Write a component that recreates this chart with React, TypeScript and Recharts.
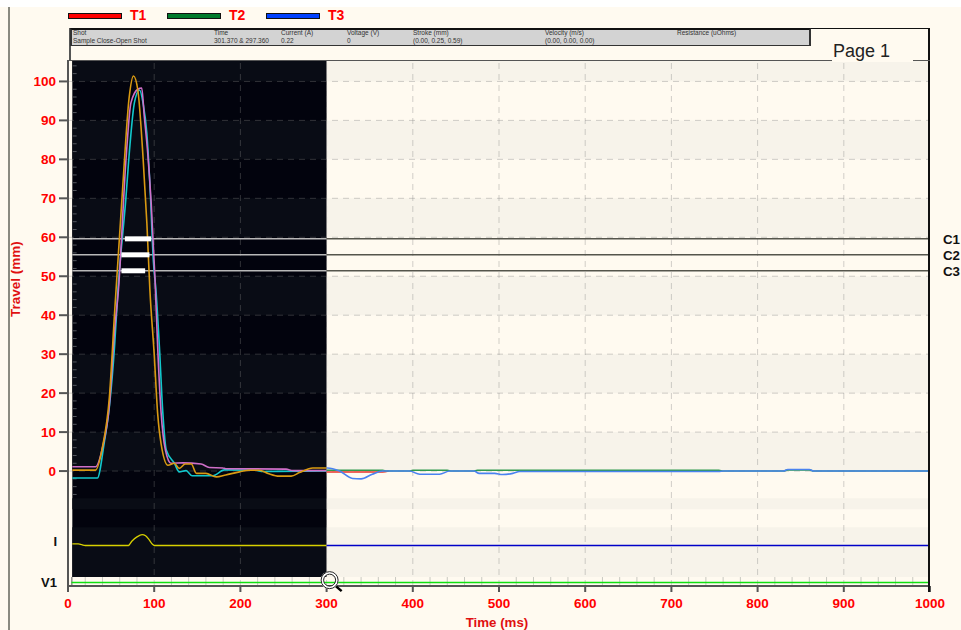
import {
  Label,
  Line,
  LineChart,
  ReferenceArea,
  ReferenceDot,
  ReferenceLine,
  XAxis,
  YAxis,
} from 'recharts';

const FONT = '"Liberation Sans", Arial, sans-serif';
const CREAM = '#fffaf0';

const xTicks = [0, 100, 200, 300, 400, 500, 600, 700, 800, 900, 1000];
const xGrid = [100, 200, 300, 400, 500, 600, 700, 800, 900];
const yTicks = [0, 10, 20, 30, 40, 50, 60, 70, 80, 90, 100];
const minorTicks = [-6, -4, -2, 2, 4, 6, 8, 12, 14, 16, 18, 22, 24, 26, 28, 32, 34, 36, 38, 42, 44, 46, 48, 52, 54, 56, 58, 62, 64, 66, 68, 72, 74, 76, 78, 82, 84, 86, 88, 92, 94, 96, 98, 102, 104];
const v1Ticks = [20, 40, 60, 80, 120, 140, 160, 180, 220, 240, 260, 280, 320, 340, 360, 380, 420, 440, 460, 480, 520, 540, 560, 580, 620, 640, 660, 680, 720, 740, 760, 780, 820, 840, 860, 880, 920, 940, 960, 980];

// stripes behind the plot, [top, bottom] in mm
const bands = [[105.5, 100], [90, 80], [70, 60], [50, 40], [30, 20], [10, 0], [-7, -9.8], [-14.4, -27.2]];

// contact cursors
const cursors = [
  { name: 'C1', mm: 59.6, from: 66, to: 96.5 },
  { name: 'C2', mm: 55.5, from: 62, to: 94.5 },
  { name: 'C3', mm: 51.4, from: 62, to: 89.5 },
];

// travel inside the selected window (shown inverted on black)
const t1WindowTime = [5, 34, 42, 48, 54, 58, 67, 72, 77, 83, 87, 91.5, 95.5, 99, 102, 106, 110, 114, 123.5, 129, 137, 144, 168, 181.5, 218, 226, 300];
const t1WindowMm = [-1.8, -1.8, 7.2, 16.5, 32, 46.5, 69.6, 84, 94.5, 97.8, 94.5, 86.6, 71.3, 54, 46.5, 32, 15, 5.4, 2, -0.2, 0.1, -1.2, -1.2, 0.3, 0.2, -0.1, 0];
const t2WindowTime = [5, 32, 40, 48, 54, 58.5, 67.5, 73, 81, 85.5, 88.5, 92.5, 96.5, 101, 104, 108, 113, 119.5, 133, 154.5, 164, 179.5, 183, 253, 261, 300];
const t2WindowMm = [1.1, 1.1, 6, 17, 36, 46.5, 80.7, 94.5, 98, 98.3, 91, 81.6, 68.8, 49, 32, 15, 5.4, 2, 2.1, 1.8, 0.9, 0.8, 0.6, 0.5, 0.1, 0.1];
const t3WindowTime = [5, 32, 40, 48, 54, 63.5, 71, 76, 81, 87, 91.5, 95, 100, 104, 108, 116, 123.5, 129, 136, 143, 149, 160, 172, 183, 199, 210, 222, 232, 245, 259, 268.5, 284, 300];
const t3WindowMm = [0.25, 0.25, 6.2, 19, 40.5, 73, 96, 101.4, 97.8, 80.7, 63.6, 46.5, 30, 14.8, 7, 1.5, 2, 0.7, 1.8, 1.8, -0.6, -0.6, -1.5, -1, -0.2, 0.2, 0.2, -0.6, -1.3, -1.3, -0.4, 0.8, 0.8];

// travel after the window
const t1AfterTime = [300, 365, 372];
const t1AfterMm = [-0.25, -0.25, 0];
const t2AfterTime = [300, 365, 370, 396, 400, 440, 445, 470, 475, 755, 760, 830, 835, 860, 865, 1000];
const t2AfterMm = [0.2, 0.2, 0, 0, 0.2, 0.2, 0, 0, 0.2, 0.2, 0, 0, 0.3, 0.3, 0, 0];
const t3AfterTime = [300, 301, 315, 330, 340, 353, 365, 396, 408, 431, 443, 471, 477, 495, 504, 516, 524, 755, 760, 830, 835, 860, 865, 1000];
const t3AfterMm = [0.8, 0.8, 0, -1.9, -2, -0.8, 0, 0, -0.8, -0.8, 0, 0, -0.6, -0.6, -0.9, -0.6, -0.1, -0.1, 0, 0, 0.4, 0.4, 0, 0];

// current channel, drawn at its own baseline under the travel traces
const currentWindowTime = [5, 12, 16, 20, 70, 74, 80, 86, 90, 94, 98, 100, 300];
const currentWindowMm = [-18.7, -18.7, -18.9, -19.1, -19.1, -18, -16.9, -16.3, -16.6, -17.6, -18.8, -19.1, -19.1];
const currentAfterTime = [300, 1000];
const currentAfterMm = [-19.1, -19.1];

const v1Time = [4, 1000];
const v1Mm = [-28.6, -28.6];

const legendItems = [
  { name: 'T1', color: '#ff0000', left: 68 },
  { name: 'T2', color: '#007a2c', left: 167 },
  { name: 'T3', color: '#0040ff', left: 266 },
];

const infoColumns = [
  { head: 'Shot', value: 'Sample Close-Open Shot', left: 73 },
  { head: 'Time', value: '301.370 & 297.360', left: 214 },
  { head: 'Current (A)', value: '0.22', left: 281 },
  { head: 'Voltage (V)', value: '0', left: 347 },
  { head: 'Stroke (mm)', value: '(0.00, 0.25, 0.59)', left: 413 },
  { head: 'Velocity (m/s)', value: '(0.00, 0.00, 0.00)', left: 545 },
  { head: 'Resistance (uOhms)', value: '', left: 677 },
];

const toPoints = (time: number[], mm: number[]) => time.map((t, i) => ({ t, mm: mm[i] }));

const traces = [
  { key: 't1-window', time: t1WindowTime, mm: t1WindowMm, color: '#12c8cc', width: 1.6 },
  { key: 't2-window', time: t2WindowTime, mm: t2WindowMm, color: '#cf6fc8', width: 1.6 },
  { key: 't3-window', time: t3WindowTime, mm: t3WindowMm, color: '#d99a12', width: 1.6 },
  { key: 't1-after', time: t1AfterTime, mm: t1AfterMm, color: '#e8352a', width: 1.6 },
  { key: 't2-after', time: t2AfterTime, mm: t2AfterMm, color: '#2f9a4c', width: 1.6 },
  { key: 't3-after', time: t3AfterTime, mm: t3AfterMm, color: '#4a82f0', width: 1.6 },
  { key: 'i-window', time: currentWindowTime, mm: currentWindowMm, color: '#d8d000', width: 1.3 },
  { key: 'i-after', time: currentAfterTime, mm: currentAfterMm, color: '#0000c8', width: 1.3 },
  { key: 'v1', time: v1Time, mm: v1Mm, color: '#10e010', width: 1.5 },
];

const Magnifier = ({ cx, cy }: { cx?: number; cy?: number }) => (
  <g>
    <line x1={cx! + 5} y1={cy! + 5} x2={cx! + 12} y2={cy! + 11} stroke="#000" strokeWidth={2.5} />
    <circle cx={cx} cy={cy} r={7.5} fill="none" stroke="#fff" strokeWidth={3} />
    <circle cx={cx} cy={cy} r={8.5} fill="none" stroke="#222" strokeWidth={1} />
    <circle cx={cx} cy={cy} r={6} fill="none" stroke="#222" strokeWidth={1} />
  </g>
);

const boxStyle = (left: number, top: number, width: number, height: number) => ({
  position: 'absolute' as const,
  left,
  top,
  width,
  height,
});

export default function App() {
  return (
    <div style={{ ...boxStyle(0, 0, 961, 630), background: CREAM, overflow: 'hidden', fontFamily: FONT }}>
      <div style={{ ...boxStyle(0, 0, 961, 7), background: '#fff' }} />
      <div style={{ ...boxStyle(8, 7, 1.5, 623), background: '#8a8a80' }} />

      {legendItems.map((item) => (
        <div key={item.name}>
          <div
            style={{
              ...boxStyle(item.left, 13, 52, 4),
              background: item.color,
              border: '1px solid #111',
            }}
          />
          <div
            style={{
              position: 'absolute',
              left: item.left + 62,
              top: 7,
              color: '#ff0000',
              fontSize: 14,
              fontWeight: 'bold',
              lineHeight: '16px',
            }}
          >
            {item.name}
          </div>
        </div>
      ))}

      <div style={{ position: 'absolute', left: 0, top: 0 }}>
        <LineChart
          width={961}
          height={630}
          margin={{ top: 60, right: 31, bottom: 0, left: 8 }}
          style={{ fontFamily: FONT }}
        >
          <XAxis
            type="number"
            dataKey="t"
            domain={[0, 1000]}
            ticks={xTicks}
            interval={0}
            height={44}
            allowDuplicatedCategory={false}
            stroke="#555"
            strokeWidth={2}
            tickSize={6}
            tickMargin={6}
            tick={{ fill: '#ff0000', fontSize: 13.5, fontWeight: 'bold' }}
          >
            <Label value="Time (ms)" position="insideBottom" offset={3} dx={-2} fill="#e01010" fontSize={13.3} fontWeight="bold" />
          </XAxis>
          <XAxis
            xAxisId="top"
            orientation="top"
            type="number"
            dataKey="t"
            domain={[0, 1000]}
            ticks={xGrid}
            interval={0}
            height={0}
            axisLine={false}
            tickSize={4}
            tickLine={{ stroke: '#c4c0b8' }}
            tick={() => <g />}
          />
          <YAxis
            type="number"
            domain={[-29.5, 105.5]}
            ticks={yTicks}
            interval={0}
            width={60}
            allowDataOverflow
            stroke="#555"
            strokeWidth={2}
            tickSize={9}
            tickMargin={3}
            tick={{ fill: '#ff0000', fontSize: 13.5, fontWeight: 'bold' }}
          >
            <Label value="Travel (mm)" angle={-90} position="insideLeft" offset={7} dy={-6} fill="#e01010" fontSize={13.5} fontWeight="bold" />
          </YAxis>

          <ReferenceArea x1={5} x2={300} y1={105.5} y2={-27.2} fill="#02030d" fillOpacity={1} stroke="none" />
          {bands.map(([top, bottom]) => (
            <ReferenceArea key={`w${top}`} x1={5} x2={300} y1={top} y2={bottom} fill="#090c15" fillOpacity={1} stroke="none" />
          ))}
          {bands.map(([top, bottom]) => (
            <ReferenceArea key={`a${top}`} x1={300} x2={1000} y1={top} y2={bottom} fill="#f7f3ea" fillOpacity={1} stroke="none" />
          ))}

          {yTicks.map((mm) => (
            <ReferenceLine key={`gy${mm}`} y={mm} stroke="#808080" strokeOpacity={0.36} strokeDasharray="6 5" />
          ))}
          {xGrid.map((t) => (
            <ReferenceLine key={`gx${t}`} x={t} stroke="#808080" strokeOpacity={0.36} strokeDasharray="6 5" />
          ))}

          {minorTicks.map((mm) => (
            <ReferenceLine
              key={mm}
              segment={[{ x: 5.5, y: mm }, { x: 10, y: mm }]}
              stroke="#55585f"
            />
          ))}
          {v1Ticks.map((t) => (
            <ReferenceLine
              key={t}
              segment={[{ x: t, y: -27.2 }, { x: t, y: -29.3 }]}
              stroke="#c8c8c0"
            />
          ))}
          <ReferenceLine segment={[{ x: 4.5, y: -27.2 }, { x: 4.5, y: -29.5 }]} stroke="#555" />

          {cursors.map((c) => (
            <ReferenceLine
              key={c.name}
              segment={[{ x: 5, y: c.mm }, { x: 300, y: c.mm }]}
              stroke="#b8b8b8"
              strokeWidth={1.5}
            />
          ))}
          {cursors.map((c) => (
            <ReferenceLine key={`${c.name}-line`} y={c.mm} stroke="none">
              <Label value={c.name} position="right" offset={13} fill="#111" fontSize={13.3} fontWeight="bold" />
            </ReferenceLine>
          ))}
          {cursors.map((c) => (
            <ReferenceLine
              key={`${c.name}-after`}
              segment={[{ x: 300, y: c.mm }, { x: 1000, y: c.mm }]}
              stroke="#55554c"
              strokeWidth={1.5}
            />
          ))}

          {traces.map((tr) => (
            <Line
              key={tr.key}
              data={toPoints(tr.time, tr.mm)}
              dataKey="mm"
              type="monotone"
              stroke={tr.color}
              strokeWidth={tr.width}
              dot={false}
              activeDot={false}
              legendType="none"
              isAnimationActive={false}
            />
          ))}

          {cursors.map((c) => (
            <ReferenceLine
              key={`${c.name}-thick`}
              segment={[{ x: c.from, y: c.mm }, { x: c.to, y: c.mm }]}
              stroke="#fff"
              strokeWidth={5}
            />
          ))}

          <ReferenceLine y={-18} stroke="none">
            <Label value="I" position="left" offset={11} fill="#111" fontSize={13} fontWeight="bold" />
          </ReferenceLine>
          <ReferenceLine y={-28.6} stroke="none">
            <Label value="V1" position="left" offset={11} fill="#111" fontSize={13} fontWeight="bold" />
          </ReferenceLine>

          <ReferenceDot x={303.5} y={-28} r={8} shape={Magnifier} />
        </LineChart>
      </div>

      <div style={{ ...boxStyle(70, 28, 860, 564), borderTop: '1px solid #111', borderRight: '2px solid #111', boxSizing: 'border-box' }} />
      <div style={{ ...boxStyle(69, 28, 1.5, 32), background: '#555' }} />
      <div
        style={{
          ...boxStyle(70, 28, 741, 18),
          background: '#d3d3d3',
          borderTop: '2px solid #111',
          borderBottom: '1px solid #333',
          borderLeft: '2px solid #333',
          borderRight: '2px solid #333',
          boxSizing: 'border-box',
        }}
      />
      {infoColumns.map((col) => (
        <div key={col.head} style={{ fontSize: 6.5, color: '#333', lineHeight: '8px', whiteSpace: 'nowrap' }}>
          <div style={{ position: 'absolute', left: col.left, top: 29 }}>{col.head}</div>
          <div style={{ position: 'absolute', left: col.left, top: 37 }}>{col.value}</div>
        </div>
      ))}

      <div style={{ ...boxStyle(68, 59.5, 764, 1.5), background: '#555' }} />
      <div style={{ ...boxStyle(913, 59.5, 17, 1.5), background: '#555' }} />
      <div style={{ ...boxStyle(832, 40, 81, 22), background: CREAM }} />
      <div style={{ position: 'absolute', left: 833, top: 40, fontSize: 18, color: '#222', lineHeight: '22px' }}>Page 1</div>
    </div>
  );
}
